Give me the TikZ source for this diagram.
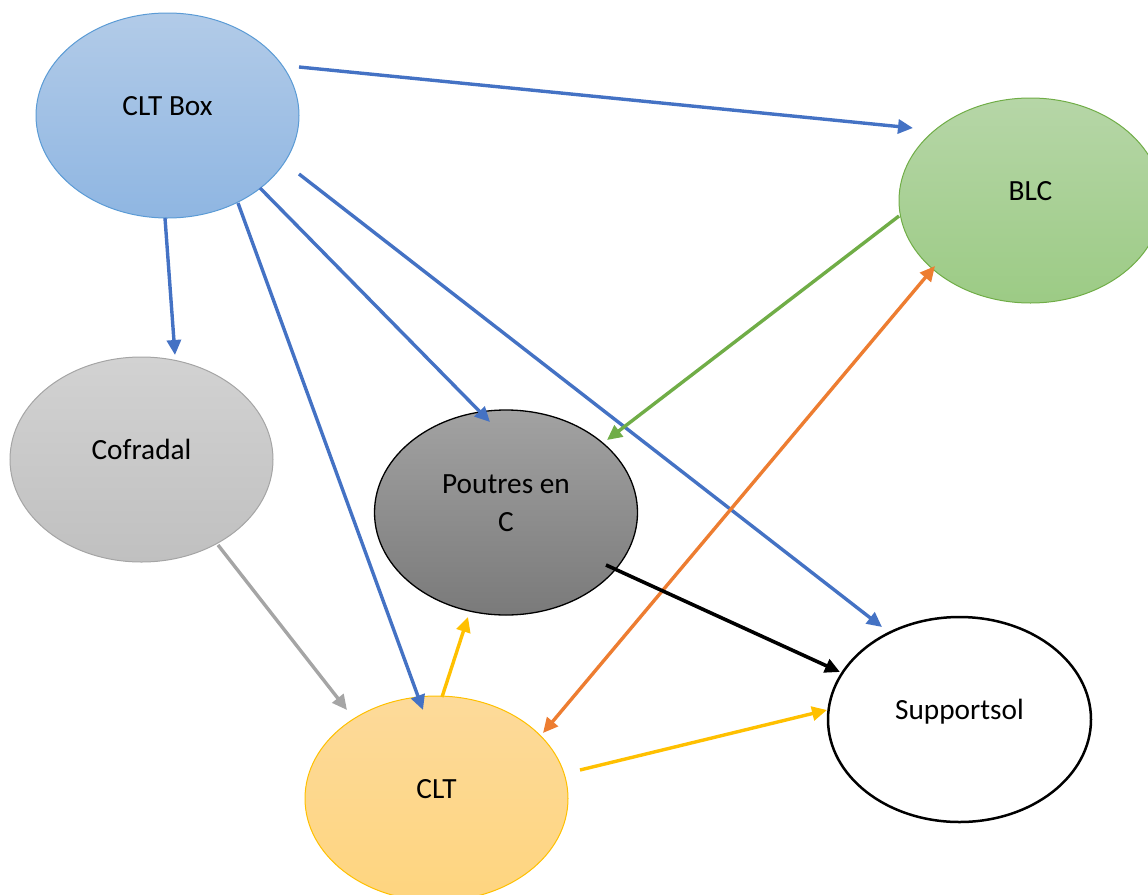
\documentclass[tikz,border=0pt]{standalone}
\usepackage{fontspec}
\setmainfont{Carlito}
\usetikzlibrary{shapes.geometric,arrows.meta}
\definecolor{cblue}{HTML}{4472C4}
\definecolor{cblueline}{HTML}{5B9BD5}
\definecolor{cgreen}{HTML}{70AD47}
\definecolor{cgray}{HTML}{A5A5A5}
\definecolor{corange}{HTML}{ED7D31}
\definecolor{cyellow}{HTML}{FFC000}
\tikzset{
  oval/.style={ellipse, minimum width=263pt, minimum height=205pt, inner sep=0pt,
    font=\fontsize{29.3}{35}\selectfont},
  conn/.style={line width=3.4pt, -{Triangle[length=15pt,width=14pt]}},
  biconn/.style={line width=3.4pt, {Triangle[length=15pt,width=14pt]}-{Triangle[length=15pt,width=14pt]}},
}
\newcommand{\lbl}[1]{\raisebox{0pt}[0pt][0pt]{#1}}
\begin{document}
\begin{tikzpicture}[x=1pt,y=-1pt]
\useasboundingbox (0,0) rectangle (1148,894);
\node[oval, draw=cblueline, line width=1pt, top color={rgb,255:red,178;green,203;blue,232}, bottom color={rgb,255:red,143;green,182;blue,226}] (cltbox) at (167.5,115.5) {\lbl{CLT Box}};
\node[oval, draw=cgreen, line width=1pt, top color={rgb,255:red,182;green,214;blue,167}, bottom color={rgb,255:red,156;green,203;blue,133}] (blc) at (1030.5,200.5) {\lbl{BLC}};
\node[oval, draw=cgray, line width=1pt, top color={rgb,255:red,210;green,210;blue,210}, bottom color={rgb,255:red,192;green,192;blue,192}] (cofradal) at (141.5,459.5) {\lbl{Cofradal}};
\node[oval, draw=black, line width=1.3pt, top color={rgb,255:red,162;green,162;blue,162}, bottom color={rgb,255:red,122;green,122;blue,122}] (poutres) at (506,512.5) {\makebox[0pt]{\raisebox{19pt}[0pt][0pt]{Poutres en}}\makebox[0pt]{\raisebox{-19pt}[0pt][0pt]{C}}};
\node[oval, draw=black, line width=2.5pt, fill=white] (support) at (959.5,719.5) {\lbl{Supportsol}};
\node[oval, draw=cyellow, line width=1pt, top color={rgb,255:red,253;green,218;blue,154}, bottom color={rgb,255:red,254;green,213;blue,127}] (clt) at (436.5,798.5) {\lbl{CLT}};

\draw[conn, cblue] ([shift={(131.5,-48.5)}]cltbox.center) -- ([shift={(-117.5,-72.5)}]blc.center);
\draw[conn, cblue] ([shift={(-2.5,102.5)}]cltbox.center) -- ([shift={(33.5,-104.5)}]cofradal.center);
\draw[conn, cblue] ([shift={(70.5,87.5)}]cltbox.center) -- ([shift={(-13.5,-88.5)}]clt.center);
\draw[conn, cblue] ([shift={(92.5,72.5)}]cltbox.center) -- ([shift={(-16,-90.5)}]poutres.center);
\draw[conn, cblue] ([shift={(131.5,58.5)}]cltbox.center) -- ([shift={(-77.5,-92.5)}]support.center);
\draw[conn, cgreen] ([shift={(-131.5,15.5)}]blc.center) -- ([shift={(101,-72.5)}]poutres.center);
\draw[biconn, corange] ([shift={(-95.5,65.5)}]blc.center) -- ([shift={(106.5,-65.5)}]clt.center);
\draw[conn, cgray] ([shift={(76.5,85.5)}]cofradal.center) -- ([shift={(-89.5,-88.5)}]clt.center);
\draw[conn, cyellow] ([shift={(5.5,-101.5)}]clt.center) -- ([shift={(-38,104.5)}]poutres.center);
\draw[conn, black, line width=3.6pt] ([shift={(100,52.5)}]poutres.center) -- ([shift={(-119.5,-47.5)}]support.center);
\draw[conn, cyellow] ([shift={(143.5,-28.5)}]clt.center) -- ([shift={(-132.5,-9.5)}]support.center);
\end{tikzpicture}
\end{document}
